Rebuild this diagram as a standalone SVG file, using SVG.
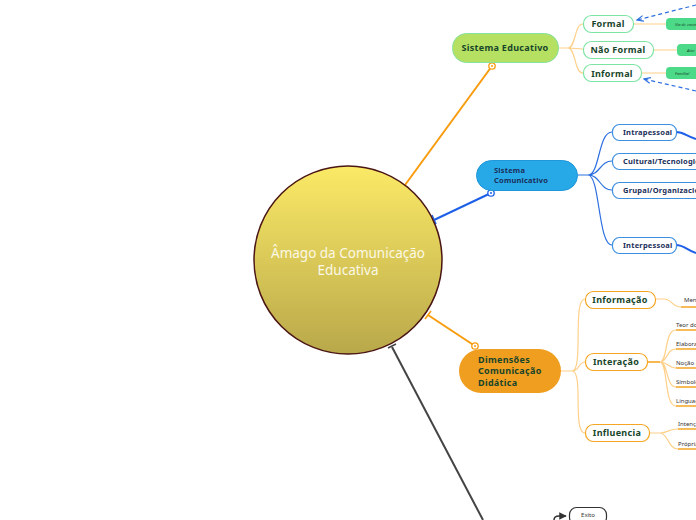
<svg xmlns="http://www.w3.org/2000/svg" width="696" height="520" viewBox="0 0 696 520">
<defs>
<linearGradient id="core" x1="0" y1="0" x2="0" y2="1">
<stop offset="0" stop-color="#fbea66"/>
<stop offset="1" stop-color="#b9a84a"/>
</linearGradient>
<marker id="arrB" viewBox="0 0 10 10" refX="9" refY="5" markerWidth="6" markerHeight="6" orient="auto"><path d="M0,1 L9,5 L0,9" fill="none" stroke="#2b6fe0" stroke-width="1.6"/></marker>
<marker id="arrD" viewBox="0 0 10 10" refX="9" refY="5" markerWidth="5" markerHeight="5" orient="auto"><path d="M0,0 L10,5 L0,10 Z" fill="#333"/></marker>
</defs>
<style>
text{font-family:"Noto Sans","Open Sans","Liberation Sans",sans-serif}
.t1{font-weight:bold;fill:#17452a;font-size:9px;letter-spacing:0.3px}
.tb{font-weight:bold;fill:#1b2f5a;font-size:7.5px;letter-spacing:0.2px}
.tl{fill:#333;font-size:6px}
.tg{fill:#17452a;font-size:4px;font-style:italic}
.boxG{fill:#fff;stroke:#7de4a4;stroke-width:1.2}
.boxB{fill:#fff;stroke:#3d8fe0;stroke-width:1.2}
.boxO{fill:#fff;stroke:#f5a623;stroke-width:1.2}
.lo{fill:none;stroke:#ffd08a;stroke-width:1.2}
.lb{fill:none;stroke:#2b6fe0;stroke-width:1.2}
.ul{fill:none;stroke:#f5a623;stroke-width:1.6}
</style>
<g id="connectors">
<line x1="492" y1="66" x2="405" y2="185" stroke="#f89c0e" stroke-width="2"/>
<line x1="400" y1="182" x2="409" y2="188" stroke="#f89c0e" stroke-width="1.5"/>
<circle cx="492" cy="66" r="3.2" fill="#fff" stroke="#f89c0e" stroke-width="1.3"/>
<circle cx="492" cy="66" r="1" fill="#f89c0e"/>
<line x1="491" y1="193" x2="434" y2="220" stroke="#1e5fe8" stroke-width="2"/>
<line x1="432" y1="215" x2="436" y2="224" stroke="#1e5fe8" stroke-width="1.5"/>
<circle cx="491" cy="193" r="3.2" fill="#fff" stroke="#1e5fe8" stroke-width="1.3"/>
<circle cx="491" cy="193" r="1" fill="#1e5fe8"/>
<line x1="475" y1="346" x2="428" y2="315" stroke="#f89c0e" stroke-width="2"/>
<line x1="425" y1="319" x2="431" y2="311" stroke="#f89c0e" stroke-width="1.5"/>
<circle cx="475" cy="346" r="3.2" fill="#fff" stroke="#f89c0e" stroke-width="1.3"/>
<circle cx="475" cy="346" r="1" fill="#f89c0e"/>
<line x1="392" y1="347" x2="483" y2="520" stroke="#444" stroke-width="2"/>
<line x1="388" y1="348" x2="396" y2="344" stroke="#444" stroke-width="1.5"/>
<path class="lo" d="M558,48 H568 C576,48 574,24 583,24 M568,48 C576,48 576,49 583,49 M568,48 C576,48 574,73 583,73"/>
<path class="lo" d="M633,24 H666 M653,50 H677 M641,73 H666"/>
<path d="M696,5 L637,20" fill="none" stroke="#2b6fe0" stroke-width="1.2" stroke-dasharray="4,3" marker-end="url(#arrB)"/>
<path d="M696,91 L644,79" fill="none" stroke="#2b6fe0" stroke-width="1.2" stroke-dasharray="4,3" marker-end="url(#arrB)"/>
<path class="lb" d="M577,175 H588 C600,175 598,132 612,132 M588,175 C600,175 600,161 612,161 M588,175 C600,175 600,190 612,190 M588,175 C600,175 598,245 612,245"/>
<path d="M676,132 C684,132 686,136 696,139 M676,245 C684,245 686,250 696,253" fill="none" stroke="#1e5fe8" stroke-width="2"/>
<path class="lo" d="M561,371 H572 C584,371 572,299 585,299 M572,371 C580,371 578,362 585,362 M572,371 C584,371 572,433 585,433"/>
<path class="lo" d="M655,299 H664 C672,299 672,307 681,307"/>
<path d="M647,362 H660" fill="none" stroke="#f5a623" stroke-width="1.6"/>
<path class="lo" d="M660,362 C668,362 664,330 676,330 M660,362 C668,362 666,349 676,349 M660,362 C668,362 668,368 676,368 M660,362 C668,362 666,387 676,387 M660,362 C668,362 664,406 676,406"/>
<path class="lo" d="M649,433 H660 C668,433 668,429 678,429 M660,433 C668,433 668,449 678,449"/>
<path class="ul" d="M681,307 H696 M676,330 H696 M676,349 H696 M676,368 H696 M676,387 H696 M676,406 H696 M678,429 H696 M678,449 H696"/>
<path d="M554,524 V520 C554,517 556,516 559,516 H566" fill="none" stroke="#333" stroke-width="1.5" marker-end="url(#arrD)"/>
</g>
<g id="core-node">
<circle cx="348" cy="260" r="94" fill="url(#core)" stroke="#4a1515" stroke-width="1.5"/>
<text x="348" y="258" text-anchor="middle" font-size="13.5" fill="#fbf8e6">Âmago da Comunicação</text>
<text x="348" y="275" text-anchor="middle" font-size="13.5" fill="#fbf8e6">Educativa</text>
</g>
<g id="sistema-educativo">
<rect x="452.5" y="33.5" width="106" height="29" rx="14" fill="#b5e061" stroke="#86e0a0" stroke-width="1"/>
<text x="505" y="51" text-anchor="middle" class="t1" font-size="8.5">Sistema Educativo</text>
</g>
<g id="formal"><rect x="583.5" y="15.5" width="50" height="17" rx="8" class="boxG"/><text x="608" y="27" text-anchor="middle" class="t1" font-size="8.5">Formal</text></g>
<g id="nao-formal"><rect x="583.5" y="41.5" width="70" height="17" rx="8" class="boxG"/><text x="618" y="53" text-anchor="middle" class="t1" font-size="8.5">Não Formal</text></g>
<g id="informal"><rect x="583.5" y="64.5" width="58" height="17" rx="8" class="boxG"/><text x="612" y="77" text-anchor="middle" class="t1" font-size="8.5">Informal</text></g>
<g id="via-ensino"><rect x="666" y="18" width="40" height="12" rx="4" fill="#4dda88"/><text x="675" y="25.5" class="tg">Via de ensino</text></g>
<g id="atividades"><rect x="677" y="44" width="30" height="12" rx="4" fill="#4dda88"/><text x="687" y="51.5" class="tg">Ativi</text></g>
<g id="familia"><rect x="666" y="67" width="40" height="12" rx="4" fill="#4dda88"/><text x="675" y="74.5" class="tg">Família/</text></g>
<g id="sistema-comunicativo">
<rect x="476.5" y="160.5" width="101" height="30" rx="15" fill="#27a9e8" stroke="#2196d8" stroke-width="1"/>
<text x="494" y="173" class="tb" font-size="7.5" font-weight="normal">Sistema</text>
<text x="494" y="183" class="tb" font-size="7.5" font-weight="normal">Comunicativo</text>
</g>
<g id="intrapessoal"><rect x="612.5" y="124.5" width="64" height="16" rx="7" class="boxB"/><text x="623" y="135" class="tb">Intrapessoal</text></g>
<g id="cultural"><rect x="612.5" y="153.5" width="90" height="16" rx="7" class="boxB"/><text x="623" y="164" class="tb">Cultural/Tecnologico</text></g>
<g id="grupal"><rect x="612.5" y="182.5" width="90" height="16" rx="7" class="boxB"/><text x="623" y="193" class="tb">Grupal/Organizacional</text></g>
<g id="interpessoal"><rect x="612.5" y="237.5" width="64" height="16" rx="7" class="boxB"/><text x="623" y="248" class="tb">Interpessoal</text></g>
<g id="dimensoes">
<rect x="459" y="349" width="102" height="44" rx="22" fill="#f09e20"/>
<text x="478" y="362.5" class="t1" font-size="7.5">Dimensões</text>
<text x="478" y="374" class="t1" font-size="7.5">Comunicação</text>
<text x="478" y="385.5" class="t1" font-size="7.5">Didática</text>
</g>
<g id="informacao"><rect x="585.5" y="291.5" width="70" height="17" rx="8" class="boxO"/><text x="620" y="303" text-anchor="middle" class="t1" font-size="8.5">Informação</text></g>
<g id="interacao"><rect x="585.5" y="353.5" width="62" height="17" rx="8" class="boxO"/><text x="616" y="365" text-anchor="middle" class="t1" font-size="8.5">Interação</text></g>
<g id="influencia"><rect x="585.5" y="424.5" width="64" height="17" rx="8" class="boxO"/><text x="617" y="436" text-anchor="middle" class="t1" font-size="8.5">Influencia</text></g>
<g id="leaf-men"><text x="684" y="302" class="tl">Men</text></g>
<g id="leaf-teor"><text x="676" y="327" class="tl">Teor do</text></g>
<g id="leaf-elab"><text x="676" y="346" class="tl">Elabora</text></g>
<g id="leaf-nocao"><text x="676" y="365" class="tl">Noção d</text></g>
<g id="leaf-simb"><text x="676" y="384" class="tl">Símbolo</text></g>
<g id="leaf-ling"><text x="676" y="403" class="tl">Linguag</text></g>
<g id="leaf-int"><text x="678" y="426" class="tl">Intenção</text></g>
<g id="leaf-prop"><text x="678" y="446" class="tl">Própria</text></g>
<g id="exito"><rect x="569.5" y="507.5" width="37" height="17" rx="7" fill="#fff" stroke="#333" stroke-width="1.2"/><text x="588" y="517" text-anchor="middle" class="tl" font-size="6.5">Exito</text></g>
</svg>
